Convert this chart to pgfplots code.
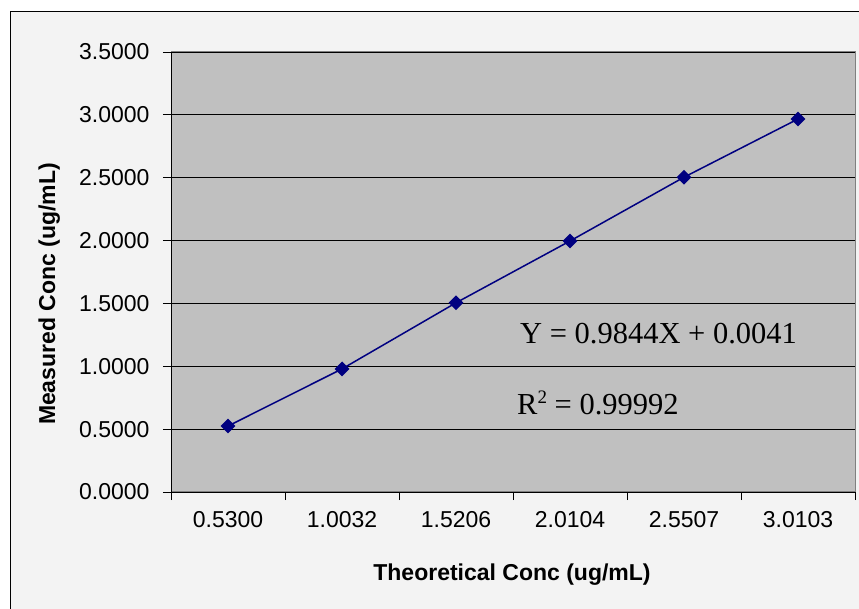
\documentclass[border=0pt]{standalone}
\usepackage{pgfplots}
\pgfplotsset{compat=1.18}
\usepackage{fontspec}
\setmainfont{Liberation Sans}
\newfontfamily\timesfont{Liberation Serif}
\definecolor{chartbg}{HTML}{F3F3F3}
\definecolor{plotbg}{HTML}{C0C0C0}
\definecolor{plotedge}{HTML}{808080}
\definecolor{navyline}{HTML}{000080}

\begin{document}
\begin{tikzpicture}[x=1pt,y=1pt]
  \useasboundingbox (0,0) rectangle (859,608);
  \clip (0,0) rectangle (859,608);
  \fill[white] (0,0) rectangle (859,608);
  % chart area
  \filldraw[fill=chartbg, draw=black, line width=1pt] (10,-20) rectangle (880,596);

  \begin{axis}[
    at={(171pt,116pt)}, anchor=south west,
    scale only axis, width=684pt, height=440pt,
    xmin=-0.5, xmax=5.5, ymin=0, ymax=3.5,
    axis background/.style={fill=plotbg, draw=plotedge, line width=1pt},
    axis x line*=bottom, axis y line*=left,
    axis line style={-, black, line width=0.8pt},
    xtick={0,1,2,3,4,5},
    xticklabels={0.5300,1.0032,1.5206,2.0104,2.5507,3.0103},
    minor xtick={-0.5,0.5,1.5,2.5,3.5,4.5,5.5},
    ytick={0,0.5,...,3.5},
    tick align=outside,
    major tick length=8pt, minor tick length=8pt,
    x tick style={draw=none},
    minor x tick style={draw=black, line width=0.8pt},
    y tick style={black, line width=0.8pt},
    ymajorgrids,
    major grid style={black, line width=0.8pt},
    /pgf/number format/assume math mode=true,
    yticklabel style={/pgf/number format/fixed, /pgf/number format/fixed zerofill, /pgf/number format/precision=4},
    yticklabel style={font=\fontsize{23}{26}\selectfont, xshift=-10pt},
    xticklabel style={font=\fontsize{23}{26}\selectfont, yshift=-8pt},
    clip=false,
  ]
    \addplot[navyline, line width=1.5pt, mark=square*, mark size=4.5pt,
             mark options={rotate=45, fill=navyline, draw=navyline}]
      coordinates {(0,0.5245) (1,0.9790) (2,1.5050) (3,1.9965) (4,2.5040) (5,2.9670)};
  \end{axis}

  % axis titles
  \node[anchor=base, font=\fontsize{23}{26}\selectfont\bfseries] at (512,28) {Theoretical Conc (ug/mL)};
  \node[anchor=base, rotate=90, font=\fontsize{23}{26}\selectfont\bfseries] at (55,314) {Measured Conc (ug/mL)};

  % regression equation
  \node[anchor=base west, inner sep=0pt, font=\timesfont\fontsize{30.5}{34}\selectfont] at (520,264) {Y = 0.9844X + 0.0041};
  \node[anchor=base west, inner sep=0pt, font=\timesfont\fontsize{30.5}{34}\selectfont] at (517,193) {R\raisebox{11pt}{\fontsize{19}{20}\selectfont 2} = 0.99992};
\end{tikzpicture}
\end{document}
